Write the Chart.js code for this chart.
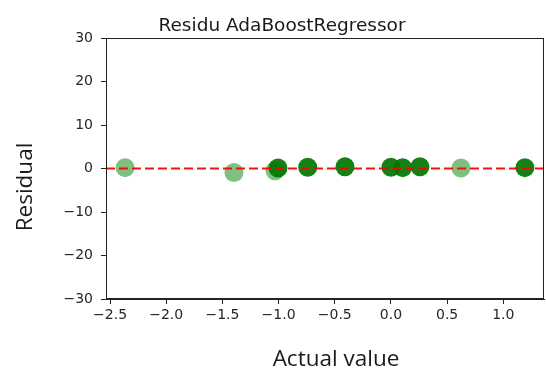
<!DOCTYPE html>
<html>
<head>
<meta charset="utf-8">
<script src="https://cdn.jsdelivr.net/npm/chart.js@4"></script>
<style>
html,body{margin:0;padding:0;background:#fff;}
canvas{display:block;}
</style>
</head>
<body>
<canvas id="c" width="546" height="369"></canvas>
<script>
// ---- data ----
const chartTitle = "Residu AdaBoostRegressor";
const xTitle = "Actual value";
const yTitle = "Residual";
const xMin = -2.536, xMax = 1.362;
const yMin = -30, yMax = 30;
const xTickValues = [-2.5, -2.0, -1.5, -1.0, -0.5, 0.0, 0.5, 1.0];
const yTickValues = [-30, -20, -10, 0, 10, 20, 30];
// lighter (single, semi-transparent) points
const lightX = [-2.366, -1.397, -1.032, 0.623];
const lightY = [0.2, -0.9, -0.5, 0.1];
// darker (overlapping) points
const darkX = [-1.005, -0.741, -0.409, 0.0, 0.104, 0.258, 1.192];
const darkY = [0.1, 0.3, 0.4, 0.3, 0.2, 0.4, 0.2];
const zeroLineY = 0;

const toPts = (xs, ys) => xs.map((x, i) => ({x: x, y: ys[i]}));
const fmt = v => (v < 0 ? "\u2212" : "") + Math.abs(v).toFixed(1);
const fmtInt = v => (v < 0 ? "\u2212" : "") + Math.abs(v).toFixed(0);

const textPlugin = {
  id: 'texts',
  afterDraw(chart) {
    const ctx = chart.ctx, a = chart.chartArea;
    ctx.save();
    // frame
    ctx.strokeStyle = '#222';
    ctx.lineWidth = 1;
    ctx.strokeRect(Math.round(a.left) + 0.5, Math.round(a.top) + 0.5,
                   Math.round(a.right - a.left) - 1, Math.round(a.bottom - a.top) - 1);
    // title
    ctx.fillStyle = '#1a1a1a';
    ctx.font = '18.5px "DejaVu Sans"';
    ctx.textAlign = 'center';
    ctx.textBaseline = 'alphabetic';
    ctx.fillText(chartTitle, 282, 31);
    // x title
    ctx.font = '22.5px "Open Sans"';
    ctx.fillText(xTitle, 336, 366);
    // y title
    ctx.translate(26, 187);
    ctx.rotate(-Math.PI / 2);
    ctx.textBaseline = 'middle';
    ctx.fillText(yTitle, 0, 0);
    ctx.restore();
  }
};

new Chart(document.getElementById('c'), {
  data: {
    datasets: [
      {
        type: 'line',
        data: [{x: xMin, y: zeroLineY}, {x: xMax, y: zeroLineY}],
        borderColor: 'rgba(255,0,0,0.95)',
        borderWidth: 2,
        borderDash: [9, 4],
        pointRadius: 0,
        order: 0
      },
      {
        type: 'scatter',
        data: toPts(darkX, darkY),
        backgroundColor: 'rgba(0,118,0,0.92)',
        borderWidth: 0,
        pointRadius: 9.5,
        order: 1
      },
      {
        type: 'scatter',
        data: toPts(lightX, lightY),
        backgroundColor: 'rgba(0,128,0,0.5)',
        borderWidth: 0,
        pointRadius: 9.5,
        order: 2
      }
    ]
  },
  options: {
    responsive: false,
    animation: false,
    devicePixelRatio: 1,
    layout: {autoPadding: false, padding: {top: 38, right: 2, left: 0, bottom: 0}},
    plugins: {legend: {display: false}, tooltip: {enabled: false}, title: {display: false}},
    scales: {
      x: {
        type: 'linear',
        min: xMin, max: xMax,
        afterFit(s) { s.height = 70; s.paddingLeft = 0; s.paddingRight = 0; },
        afterBuildTicks(s) { s.ticks = xTickValues.map(v => ({value: v})); },
        grid: {display: true, drawOnChartArea: false, drawTicks: true, tickLength: 5, color: '#222'},
        border: {display: true, color: '#222'},
        ticks: {
          callback: v => fmt(v),
          color: '#262626',
          font: {family: 'DejaVu Sans', size: 14},
          padding: 3,
          maxRotation: 0,
          autoSkip: false
        }
      },
      y: {
        type: 'linear',
        min: yMin, max: yMax,
        afterFit(s) { s.width = 106; s.paddingTop = 0; s.paddingBottom = 0; },
        afterBuildTicks(s) { s.ticks = yTickValues.map(v => ({value: v})); },
        grid: {display: true, drawOnChartArea: false, drawTicks: true, tickLength: 5, color: '#222'},
        border: {display: true, color: '#222'},
        ticks: {
          callback: v => fmtInt(v),
          color: '#262626',
          font: {family: 'DejaVu Sans', size: 14},
          padding: 8,
          autoSkip: false
        }
      }
    }
  },
  plugins: [textPlugin]
});
</script>
</body>
</html>
